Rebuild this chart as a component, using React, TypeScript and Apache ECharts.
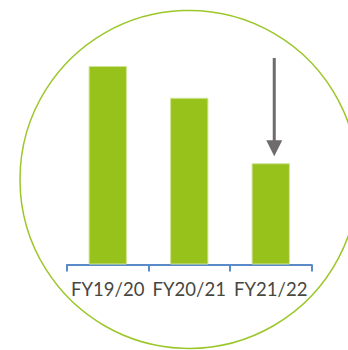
import React, { useEffect, useRef } from "react";
import * as echarts from "echarts";

const categories = ["FY19/20", "FY20/21", "FY21/22"];
const values = [100, 84, 51];
const yMax = 100;

const BAR_GREEN = "#97C21C";
const RING_GREEN = "#9CC72B";
const AXIS_BLUE = "#5B8AC9";
const ARROW_GREY = "#6F6B6C";

export default function App() {
  const ref = useRef<HTMLDivElement>(null);

  useEffect(() => {
    if (!ref.current) return;
    const chart = echarts.init(ref.current, null, { renderer: "svg" });
    chart.setOption({
      animation: false,
      backgroundColor: "#ffffff",
      grid: { left: 67, right: 36.5, top: 66, bottom: 85.5 },
      xAxis: {
        type: "category",
        data: categories,
        boundaryGap: true,
        axisLine: { show: true, lineStyle: { color: AXIS_BLUE, width: 2 } },
        axisTick: { show: true, interval: 0, length: 7, lineStyle: { color: AXIS_BLUE, width: 2 } },
        axisLabel: {
          interval: 0,
          hideOverlap: false,
          margin: 15,
          fontFamily: "Lato",
          fontSize: 18.5,
          color: "#48473F",
        },
        splitLine: { show: false },
      },
      yAxis: {
        type: "value",
        min: 0,
        max: yMax,
        show: false,
        splitLine: { show: false },
      },
      series: [
        {
          type: "bar",
          data: values,
          barWidth: "47%",
          z: 2,
          itemStyle: { color: BAR_GREEN, borderColor: "#CFE393", borderWidth: 1 },
        },
      ],
    });

    // Downward arrow pointing at the last bar, placed from the bar's own pixel position
    const last = values.length - 1;
    const top = chart.convertToPixel({ seriesIndex: 0 }, [last, values[last]]) as number[];
    const ax = top[0] + 3.5;
    const tipY = top[1] - 7;
    const headH = 16;
    const headW = 8;

    chart.setOption({
      graphic: [
        {
          type: "circle",
          z: 0,
          shape: { cx: 189, cy: 179.4, r: 169 },
          style: { fill: "none", stroke: RING_GREEN, lineWidth: 1.5 },
        },
        {
          type: "line",
          z: 10,
          shape: { x1: ax, y1: 58, x2: ax, y2: tipY - headH + 1 },
          style: { stroke: ARROW_GREY, lineWidth: 3 },
        },
        {
          type: "polygon",
          z: 10,
          shape: {
            points: [
              [ax - headW, tipY - headH],
              [ax + headW, tipY - headH],
              [ax, tipY],
            ],
          },
          style: { fill: ARROW_GREY },
        },
      ],
    });

    return () => chart.dispose();
  }, []);

  return (
    <div
      ref={ref}
      style={{ position: "fixed", left: 0, top: 0, width: 348, height: 350 }}
    />
  );
}
